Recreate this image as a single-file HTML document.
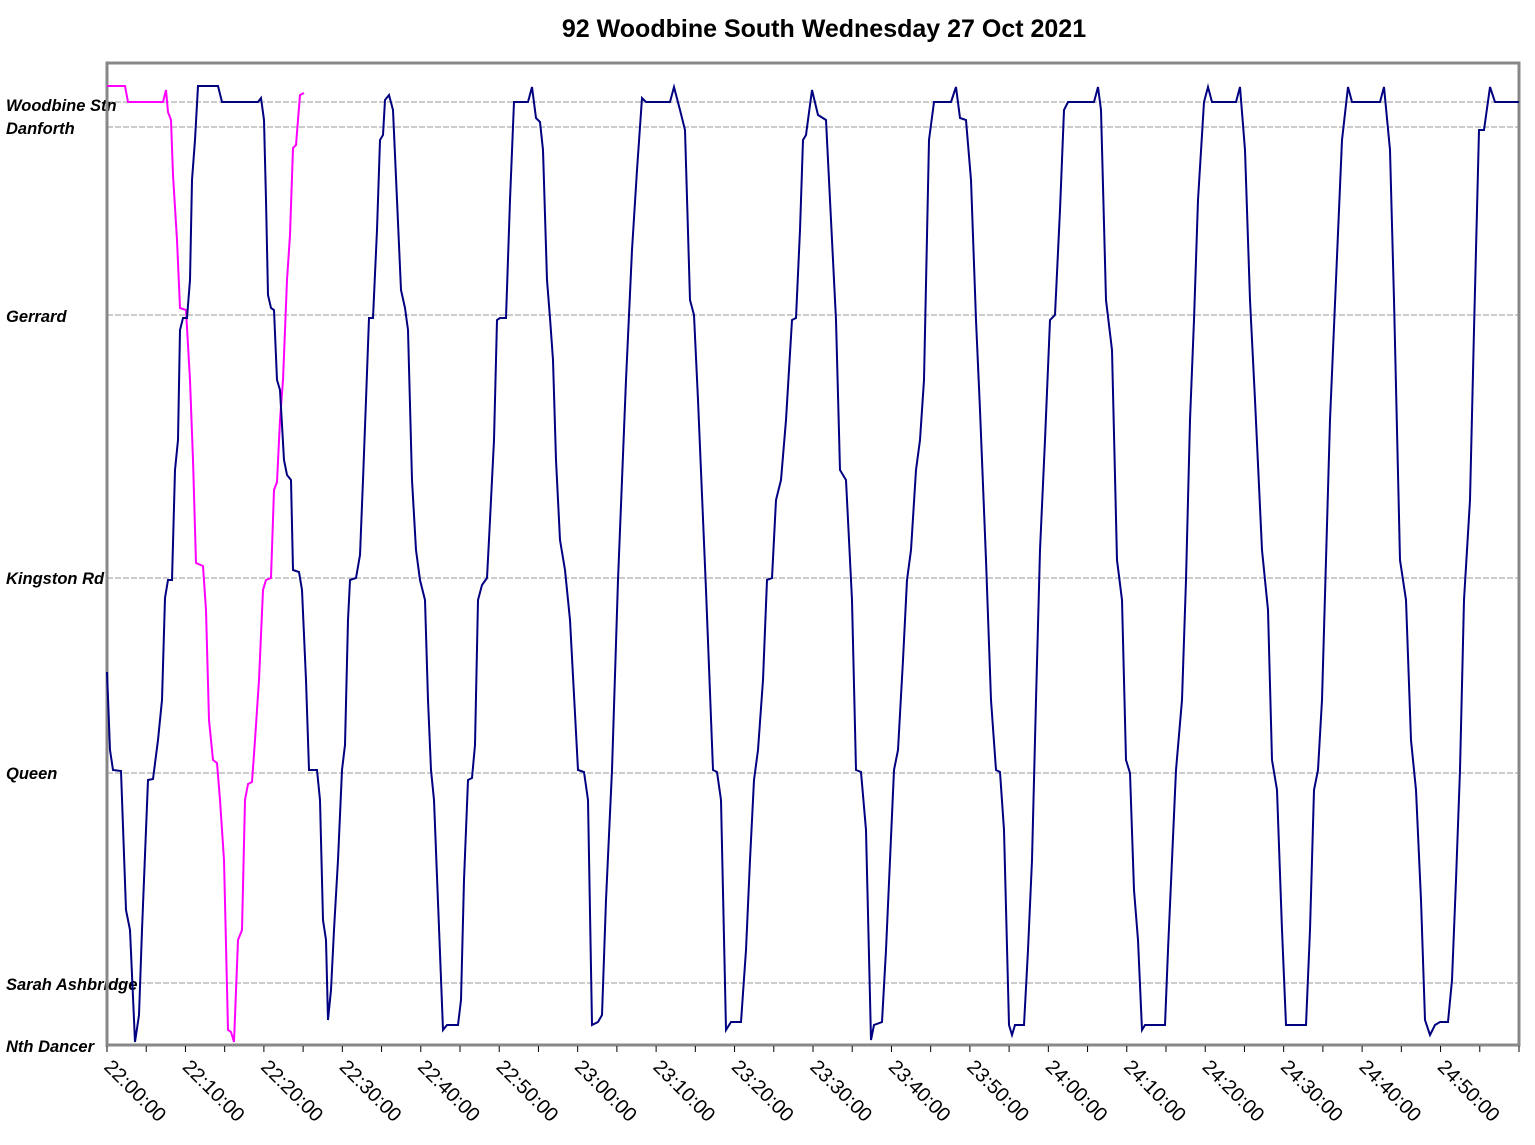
<!DOCTYPE html>
<html><head><meta charset="utf-8"><style>
html,body{margin:0;padding:0;background:#fff;}
svg{display:block;font-family:"Liberation Sans",Arial,sans-serif;}
</style></head><body>
<svg width="1535" height="1145" viewBox="0 0 1535 1145" xmlns="http://www.w3.org/2000/svg">
<rect width="1535" height="1145" fill="#fff"/>
<text x="824" y="37" text-anchor="middle" font-size="25" font-weight="bold">92 Woodbine South Wednesday 27 Oct 2021</text>
<g stroke="#999" stroke-width="1" stroke-dasharray="6,2">
<line x1="107" x2="1519" y1="102" y2="102"/>
<line x1="107" x2="1519" y1="127" y2="127"/>
<line x1="107" x2="1519" y1="315" y2="315"/>
<line x1="107" x2="1519" y1="578" y2="578"/>
<line x1="107" x2="1519" y1="773" y2="773"/>
<line x1="107" x2="1519" y1="983" y2="983"/>
</g>
<g font-size="16.5" font-weight="bold" font-style="italic">
<text x="6" y="111">Woodbine Stn</text>
<text x="6" y="134">Danforth</text>
<text x="6" y="322">Gerrard</text>
<text x="6" y="584">Kingston Rd</text>
<text x="6" y="779">Queen</text>
<text x="6" y="990">Sarah Ashbridge</text>
<text x="6" y="1052">Nth Dancer</text>
</g>
<rect x="107" y="63" width="1412" height="982" fill="none" stroke="#888" stroke-width="3"/>
<g id="ticks" stroke="#000" stroke-width="1"></g>
<polyline fill="none" stroke="#ff00ff" stroke-width="2" points="107,86 125,86 128,102 163,102 166,90 168,112 171,120 173,175 177,240 180,308 186,310 190,380 193,460 196,563 203,566 206,610 209,720 213,760 217,763 220,800 224,860 228,1030 231,1032 234,1042 238,940 242,930 245,800 248,784 252,782 255,740 259,680 263,590 266,580 271,578 274,490 277,482 280,420 283,380 287,280 290,235 293,148 296,145 300,95 304,93"/>
<polyline fill="none" stroke="#000080" stroke-width="2" points="107,672 110,750 113,770 121,771 126,910 130,930 135,1042 139,1015 142,930 148,780 153,779 158,740 162,700 165,598 168,580 172,580 175,470 178,440 180,330 183,318 187,318 190,280 192,180 195,140 198,86 218,86 222,102 258,102 261,98 264,120 266,200 268,295 271,308 274,310 277,380 280,390 284,460 287,475 291,480 293,570 299,572 302,590 306,680 309,770 317,770 320,800 323,920 326,940 328,1020 331,990 334,930 338,860 342,770 345,745 348,620 350,580 356,578 360,555 363,480 366,400 369,318 373,318 377,230 380,140 383,135 385,100 389,95 393,110 397,200 401,290 405,308 408,330 412,480 416,550 420,580 425,600 428,700 431,770 434,800 443,1030 447,1025 458,1025 461,1000 464,880 468,780 472,778 475,745 478,600 482,585 487,578 490,520 494,440 497,320 500,318 506,318 510,200 514,102 528,102 532,87 536,118 540,122 543,150 547,280 550,318 553,360 556,460 560,540 565,570 570,620 578,770 584,772 588,800 592,1025 598,1022 602,1015 606,900 612,770 618,580 622,480 626,380 632,250 637,170 642,98 646,102 670,102 674,87 680,110 685,130 690,300 694,315 698,400 706,590 713,770 717,772 721,800 726,1030 731,1022 741,1022 746,950 750,860 754,780 758,750 763,680 767,580 772,578 776,500 781,480 786,420 792,320 796,318 800,230 803,140 806,135 812,90 818,115 826,120 830,200 836,320 840,470 846,480 852,600 856,770 861,772 866,830 871,1040 874,1025 882,1022 886,950 890,860 894,770 898,750 903,660 907,580 911,550 916,470 920,440 924,380 929,140 934,102 951,102 956,87 960,118 966,120 971,180 976,320 980,410 986,560 991,700 996,770 1000,772 1004,830 1009,1025 1012,1035 1015,1025 1024,1025 1028,950 1032,860 1036,700 1040,550 1045,440 1050,320 1055,315 1060,210 1064,110 1068,102 1094,102 1098,87 1101,110 1106,300 1112,350 1117,560 1122,600 1126,760 1130,773 1134,890 1138,940 1142,1030 1145,1025 1165,1025 1168,950 1172,860 1176,770 1182,700 1186,580 1190,420 1194,320 1198,200 1204,102 1208,87 1212,102 1236,102 1240,87 1245,150 1250,300 1255,400 1262,550 1268,610 1272,760 1277,790 1282,930 1286,1025 1306,1025 1310,930 1314,790 1318,770 1322,700 1326,560 1330,420 1336,280 1342,140 1348,87 1352,102 1380,102 1384,87 1390,150 1394,300 1400,560 1406,600 1411,740 1416,790 1421,900 1425,1020 1430,1035 1435,1025 1440,1022 1448,1022 1452,980 1456,880 1460,770 1464,600 1470,500 1474,330 1479,130 1484,130 1490,87 1495,102 1519,102"/>
<g id="lbl" font-size="20"></g>
<script>
var t=document.getElementById('ticks'),l=document.getElementById('lbl'),ns='http://www.w3.org/2000/svg';
for(var i=0;i<=36;i++){var x=107+i*1412/36;var e=document.createElementNS(ns,'line');e.setAttribute('x1',x);e.setAttribute('x2',x);e.setAttribute('y1',1046);e.setAttribute('y2',1052);t.appendChild(e);
if(i%2==0&&i<36){var m=22*60+i*5,h=Math.floor(m/60),mm=m%60;var s=document.createElementNS(ns,'text');s.setAttribute('transform','translate('+(x-4)+',1068) rotate(45)');s.textContent=h+':'+(mm<10?'0':'')+mm+':00';l.appendChild(s);}}
</script>
</svg>
</body></html>
